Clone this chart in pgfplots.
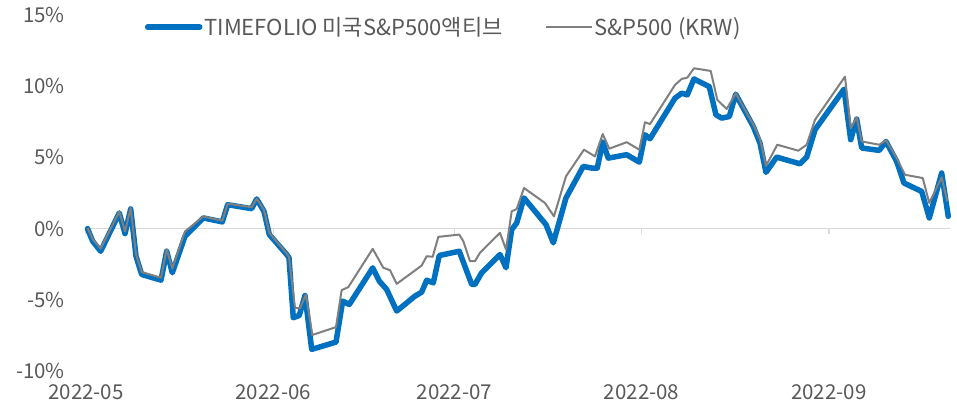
\documentclass[border=0pt]{standalone}
\usepackage{fontspec}
\setmainfont{Noto Sans CJK KR}
\usepackage{pgfplots}
\pgfplotsset{compat=1.18}
\definecolor{tfblue}{HTML}{0070C0}
\definecolor{spgray}{HTML}{7F7F7F}
\definecolor{txtgray}{HTML}{595959}
\definecolor{gridgray}{HTML}{D9D9D9}
\newcommand{\tickfont}{\fontsize{20.5bp}{24bp}\selectfont}
\newcommand{\legfont}{\fontsize{22bp}{26bp}\selectfont}
\pgfplotsset{legline/.style={legend image code/.code={\draw[##1] (0bp,0bp) -- (#1,0bp);}}}
\begin{document}
\begin{tikzpicture}
\begin{axis}[
  scale only axis,
  width=864bp, height=356bp,
  xmin=0, xmax=143.05,
  ymin=-10, ymax=15,
  axis line style={draw=none},
  xtick={0,31,61,92,123},
  xticklabels={2022-05,2022-06,2022-07,2022-08,2022-09},
  ytick={-10,-5,0,5,10,15},
  yticklabels={-10\%,-5\%,0\%,5\%,10\%,15\%},
  major tick length=0pt,
  tick style={draw=none},
  tick label style={font=\tickfont, text=txtgray},
  yticklabel style={anchor=east, inner sep=0pt, xshift=-21bp},
  xticklabel style={anchor=north, inner sep=0pt, yshift=-13bp},
  legend style={at={(0.068,0.966)}, anchor=west, draw=none, fill=none,
    font=\legfont, text=txtgray, inner sep=0pt,
    legend cell align=left,
    /tikz/every even column/.append style={column sep=40bp}},
  legend columns=2,
  clip=false,
]
\draw[gridgray, line width=1.5bp] (axis cs:0,0) -- (axis cs:143.05,0);
\pgfplotsinvokeforeach{0,31,61,92,123}{
  \draw[gridgray, line width=1.2bp] (axis cs:#1,0) -- ([yshift=-5bp]axis cs:#1,0);
}
\addplot[tfblue, line width=5.5bp, line join=round, line cap=round, legline=52bp] coordinates {
(0.25,0.00) (1.11,-0.89) (2.43,-1.59) (5.51,1.10) (6.46,-0.35) (7.40,1.38)
(8.28,-1.94) (9.22,-3.22) (12.42,-3.62) (13.36,-1.59) (14.29,-3.10) (16.39,-0.54)
(19.42,0.75) (22.57,0.47) (23.46,1.68) (27.43,1.40) (28.26,2.08) (29.47,1.21)
(30.35,-0.42) (33.23,-1.82) (33.61,-2.05) (34.32,-6.26) (35.31,-6.10) (36.26,-4.70)
(37.37,-8.48) (41.39,-7.97) (42.50,-5.09) (43.59,-5.33) (47.47,-2.76) (48.56,-3.69)
(49.78,-4.27) (51.44,-5.79) (54.47,-4.74) (55.58,-4.46) (56.41,-3.62) (57.50,-3.81)
(58.49,-1.89) (61.80,-1.59) (63.86,-3.92) (64.40,-3.92) (65.51,-3.10) (68.54,-1.82)
(69.54,-2.75) (70.48,-0.07) (71.31,0.40) (72.52,2.15) (76.16,0.28) (77.37,-1.00)
(79.47,2.15) (82.33,4.37) (83.72,4.25) (84.65,4.25) (85.55,6.07) (86.47,4.95)
(89.52,5.19) (91.61,4.67) (92.55,6.59) (93.38,6.31) (97.52,9.16) (98.63,9.51)
(99.55,9.39) (100.66,10.51) (103.19,9.97) (104.30,7.99) (105.25,7.76) (106.51,7.87)
(107.57,9.44) (110.48,7.17) (111.59,6.00) (112.58,3.95) (114.35,5.02) (118.21,4.55)
(119.32,5.02) (120.70,6.94) (125.50,9.79) (126.61,6.24) (127.60,7.69) (128.43,5.66)
(131.34,5.49) (132.45,6.12) (134.22,4.72) (135.43,3.20) (138.36,2.61) (139.62,0.75)
(141.67,3.90) (142.76,0.86)
};
\addlegendentry{TIMEFOLIO 미국S\&P500액티브}
\addplot[spgray, line width=2bp, line join=round, legline=46bp] coordinates {
(0.25,0.05) (1.11,-0.75) (2.43,-1.40) (5.51,1.20) (6.46,-0.20) (7.40,1.45)
(8.28,-1.80) (9.22,-3.05) (12.42,-3.45) (13.36,-1.45) (14.29,-2.80) (16.39,-0.20)
(19.42,0.85) (22.57,0.55) (23.46,1.75) (27.43,1.50) (28.26,2.10) (29.47,1.30)
(30.35,-0.30) (33.23,-1.75) (33.61,-2.00) (34.60,-5.56) (35.43,-5.60) (36.42,-4.63)
(37.47,-7.47) (41.39,-6.92) (42.33,-4.32) (43.43,-4.11) (47.47,-1.42) (49.22,-2.75)
(50.33,-2.92) (51.44,-3.88) (54.47,-2.94) (55.58,-2.59) (56.41,-1.94) (57.40,-1.98)
(58.33,-0.58) (61.80,-0.42) (62.47,-0.89) (63.58,-2.29) (64.40,-2.29) (65.23,-1.70)
(68.54,-0.30) (69.54,-1.47) (70.48,1.21) (71.31,1.38) (72.52,2.85) (75.99,1.80)
(77.48,0.86) (79.47,3.67) (82.45,5.54) (84.27,5.07) (85.55,6.64) (86.64,5.61)
(89.52,6.07) (91.61,5.54) (92.55,7.47) (93.38,7.34) (97.52,10.09) (98.63,10.51)
(99.55,10.60) (100.66,11.26) (103.43,11.07) (104.52,9.04) (106.08,8.40) (107.57,9.50)
(110.48,7.30) (111.59,6.30) (112.58,4.40) (114.45,5.89) (117.93,5.47) (119.32,5.89)
(120.70,7.64) (125.66,10.67) (126.61,7.06) (127.60,7.80) (128.43,6.12) (131.34,5.89)
(132.45,6.20) (134.22,4.95) (135.60,3.78) (138.53,3.55) (139.62,1.80) (141.67,3.60)
(142.59,1.91)
};
\addlegendentry{S\&P500 (KRW)}
\end{axis}
\pgfresetboundingbox
\path[use as bounding box] ([xshift=-86bp,yshift=-34bp]current axis.south west) rectangle ([xshift=7bp,yshift=15bp]current axis.north east);
\end{tikzpicture}
\end{document}
